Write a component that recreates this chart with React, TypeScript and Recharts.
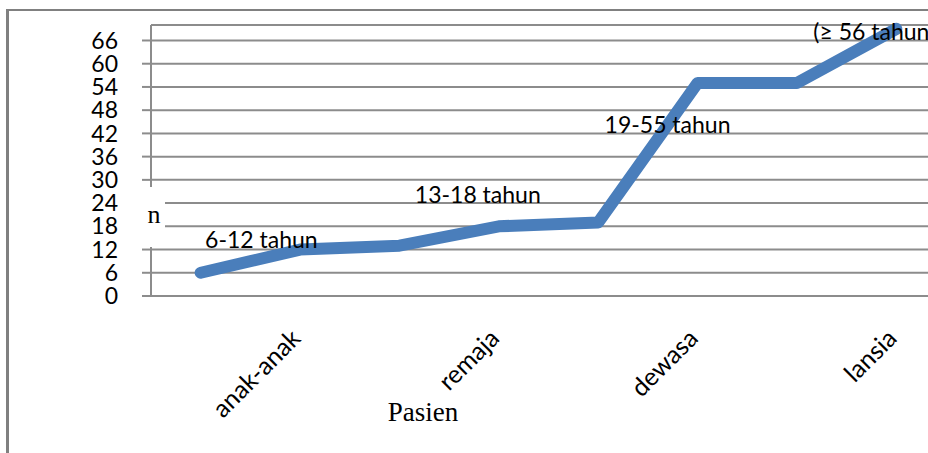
import { LineChart, Line, XAxis, YAxis, CartesianGrid, LabelList } from 'recharts';

const ageGroups = ['anak-anak', 'remaja', 'dewasa', 'lansia'];
const ageRanges = ['6-12 tahun', '13-18 tahun', '19-55 tahun', '(≥ 56 tahun'];
const patientCounts = [6, 12, 13, 18, 19, 55, 55, 69];
const countTicks = [0, 6, 12, 18, 24, 30, 36, 42, 48, 54, 60, 66];

const SANS = 'Lato, "Open Sans", sans-serif';
const SERIF = '"Liberation Serif", "Times New Roman", serif';
const GRID = '#8c8c8c';
const BLUE = '#4a7ebb';
const FS = 23;

// two slots per age group; range labels sit on the second slot of each group
const slotEdges = patientCounts.map((_, i) => i).concat(patientCounts.length);
const groupCenters = ageGroups.map((_, g) => g * 2 + 1.5);
const rows = patientCounts.map((n, i) => ({
    pos: i + 0.5,
    n,
    range: i % 2 === 1 ? ageRanges[(i - 1) / 2] : '',
}));

// hand-placed offsets (px) of each range label from its point: [dx, baseline dy]
const RANGE_OFFSETS = [[-95, -2], [-84, -23], [-93, 50], [-83, 11]];

const RangeLabel = (props: any) => {
    const { x, y, index, value } = props;
    if (!value) return null;
    const [dx, dy] = RANGE_OFFSETS[(index - 1) / 2];
    return (
        <text x={x + dx} y={y + dy} fontFamily={SANS} fontSize={FS} fill="#000">
            {value}
        </text>
    );
};

const GroupTick = ({ x, y, payload }: any) => {
    const name = ageGroups[Math.round((payload.value - 1.5) / 2)];
    return (
        <text
            transform={`translate(${x + 2},${y + 37}) rotate(-45)`}
            textAnchor="end"
            fontFamily={SANS}
            fontSize={25}
            fill="#000"
        >
            {name}
        </text>
    );
};

// "n" axis title on a white patch that breaks the axis line
const CountTitle = ({ viewBox }: any) => {
    const ax = viewBox.x + viewBox.width;
    return (
        <g>
            <rect x={ax - 11} y={187} width={25} height={60} fill="#fff" />
            <text x={ax + 3} y={223} textAnchor="middle" fontFamily={SERIF} fontSize={26} fill="#000">
                n
            </text>
        </g>
    );
};

const SlotTitle = ({ viewBox }: any) => (
    <text x={viewBox.x + 272} y={421} textAnchor="middle" fontFamily={SERIF} fontSize={27} fill="#000">
        Pasien
    </text>
);

export default function App() {
    return (
        <div style={{ position: 'absolute', left: 0, top: 0, width: 928, height: 453, overflow: 'hidden', background: '#fff' }}>
            {/* chart frame */}
            <div style={{ position: 'absolute', left: 6, top: 9, width: 1000, height: 1000, borderLeft: '3px solid #808080', borderTop: '2px solid #808080' }} />
            <div style={{ position: 'absolute', left: 0, top: 0 }}>
                <LineChart width={946} height={453} data={rows} margin={{ top: 25, right: 0, bottom: 0, left: 0 }}>
                    <CartesianGrid xAxisId="edge" vertical={false} stroke={GRID} strokeWidth={2} />
                    {/* group names under the middle of each pair of slots */}
                    <XAxis
                        xAxisId="group"
                        type="number"
                        dataKey="pos"
                        domain={[0, 8]}
                        allowDataOverflow
                        ticks={groupCenters}
                        tick={<GroupTick />}
                        tickSize={0}
                        tickMargin={0}
                        axisLine={false}
                        tickLine={false}
                        height={150}
                        interval={0}
                        label={{ content: <SlotTitle /> }}
                    />
                    {/* axis line with tick marks between slots */}
                    <XAxis
                        xAxisId="edge"
                        type="number"
                        dataKey="pos"
                        domain={[0, 8]}
                        allowDataOverflow
                        ticks={slotEdges}
                        interval={0}
                        tick={false}
                        tickSize={7}
                        height={7}
                        axisLine={{ stroke: GRID, strokeWidth: 2 }}
                        tickLine={{ stroke: GRID, strokeWidth: 2 }}
                    />
                    <YAxis
                        type="number"
                        domain={[0, 70]}
                        ticks={countTicks}
                        interval={0}
                        width={151}
                        tickSize={9}
                        tickMargin={24}
                        axisLine={{ stroke: GRID, strokeWidth: 2 }}
                        tickLine={{ stroke: GRID, strokeWidth: 2 }}
                        tick={{ fontSize: FS, fontFamily: SANS, fill: '#000' }}
                        label={{ content: <CountTitle /> }}
                    />
                    <Line
                        xAxisId="edge"
                        type="linear"
                        dataKey="n"
                        stroke={BLUE}
                        strokeWidth={12}
                        strokeLinecap="round"
                        strokeLinejoin="round"
                        dot={false}
                        isAnimationActive={false}
                    >
                        <LabelList dataKey="range" content={<RangeLabel />} />
                    </Line>
                </LineChart>
            </div>
        </div>
    );
}
